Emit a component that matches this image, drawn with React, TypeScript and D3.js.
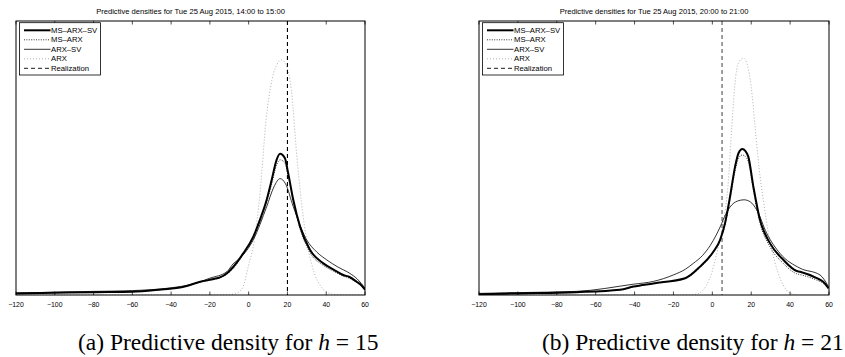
import React, { useEffect, useRef } from 'react';
import * as d3 from 'd3';

// x grid for each panel (forecast error, MW) and the density values
const xTicks = [-120, -100, -80, -60, -40, -20, 0, 20, 40, 60];

const leftMsArxSvX = [-120, -100, -80, -60, -45, -34, -25, -18, -14.8, -11, -8, -2.8, 2.4, 5.8, 9.3, 11.9, 14.4, 16.2, 18.7, 20.4, 23, 26.5, 31.6, 38.5, 44, 48.8, 52, 55.7, 58, 60];
const leftMsArxSv = [0.0004, 0.00055, 0.0007, 0.0008, 0.0014, 0.002, 0.0033, 0.004, 0.0044, 0.0055, 0.007, 0.0104, 0.0146, 0.0188, 0.0238, 0.0288, 0.0338, 0.0353, 0.0342, 0.0304, 0.0238, 0.0171, 0.0113, 0.0079, 0.0063, 0.005, 0.0045, 0.0033, 0.0025, 0.0013];
const leftMsArx = [0.0005, 0.0006, 0.0008, 0.0009, 0.0014, 0.002, 0.0032, 0.0039, 0.0043, 0.0053, 0.0066, 0.0101, 0.0143, 0.0184, 0.0232, 0.0278, 0.0325, 0.0338, 0.033, 0.0296, 0.0234, 0.0166, 0.0106, 0.0074, 0.0059, 0.0047, 0.0042, 0.0031, 0.0023, 0.0012];

const leftArxSvX = [-120, -100, -80, -60, -40, -30, -20, -11.3, -8, -4.5, 2.4, 9.3, 13, 16.2, 19, 23, 29.9, 35, 40.2, 46, 52.2, 56, 60];
const leftArxSv = [0.0005, 0.0007, 0.0009, 0.0011, 0.0018, 0.0026, 0.0042, 0.0058, 0.0078, 0.0092, 0.0138, 0.0221, 0.027, 0.0291, 0.0278, 0.0221, 0.0138, 0.0108, 0.0088, 0.007, 0.0054, 0.004, 0.0017];

const leftArxX = [-120, -20, -10, -6, -3, 0, 3, 6, 9, 12, 15, 17, 19, 22, 25, 28, 31, 34, 37, 40, 45, 60];
const leftArx = [0, 0, 0.0001, 0.0005, 0.002, 0.0075, 0.0138, 0.0263, 0.0438, 0.0538, 0.058, 0.0588, 0.0578, 0.0513, 0.0338, 0.02, 0.0108, 0.0053, 0.0023, 0.0008, 0.0001, 0];

const rightMsArxSvX = [-120, -100, -70, -47.5, -40.6, -30.3, -14, -6.3, 0.5, 4, 6.5, 9.1, 11.7, 13.5, 15.4, 17, 18.5, 21.1, 24.5, 29.7, 36.5, 43.4, 45.1, 53.7, 57, 59.7];
const rightMsArxSv = [0.0002, 0.0004, 0.0007, 0.0013, 0.0021, 0.0029, 0.0042, 0.0071, 0.0108, 0.0138, 0.0179, 0.0246, 0.0321, 0.0355, 0.0365, 0.036, 0.0346, 0.0271, 0.0188, 0.0129, 0.0088, 0.006, 0.0058, 0.0042, 0.0033, 0.0017];
const rightMsArx = [0.0003, 0.0005, 0.0008, 0.0013, 0.002, 0.0029, 0.0041, 0.0069, 0.0106, 0.0136, 0.0175, 0.0238, 0.031, 0.0342, 0.035, 0.0346, 0.0333, 0.0262, 0.018, 0.012, 0.0079, 0.0053, 0.0051, 0.0037, 0.0029, 0.0015];

const rightArxSvX = [-120, -100, -70, -40.6, -30.3, -20.1, -14, -9.8, -5, -1.2, 2, 4, 7, 9.1, 13, 16.3, 19.5, 22.8, 28, 34.8, 45.1, 55.4, 59.7];
const rightArxSv = [0.0004, 0.0006, 0.0009, 0.0027, 0.0034, 0.005, 0.0064, 0.0079, 0.0099, 0.0123, 0.015, 0.017, 0.0203, 0.022, 0.0235, 0.0238, 0.0233, 0.0213, 0.0154, 0.0104, 0.0067, 0.005, 0.0021];

const rightArxX = [-120, -12, -7, -3, 0, 3, 6, 8, 10, 12, 14, 16, 18, 20, 22, 24, 26.2, 29, 32, 35, 38, 41, 45, 60];
const rightArx = [0, 0, 0.0004, 0.0025, 0.006, 0.012, 0.019, 0.027, 0.042, 0.0545, 0.0585, 0.0592, 0.0575, 0.052, 0.042, 0.032, 0.0238, 0.015, 0.0085, 0.004, 0.0013, 0.0003, 0, 0];

const legendLabels = ['MS\u2013ARX\u2013SV', 'MS\u2013ARX', 'ARX\u2013SV', 'ARX', 'Realization'];

const panels = [
  {
    left: 16, right: 365,
    title: 'Predictive densities for Tue 25 Aug 2015, 14:00 to 15:00',
    realization: 20, realColor: '#000',
    caption: ['(a) Predictive density for ', 'h', ' = 15'], capX: 78,
    series: [
      { x: leftArxX, y: leftArx },
      { x: leftMsArxSvX, y: leftMsArx },
      { x: leftArxSvX, y: leftArxSv },
      { x: leftMsArxSvX, y: leftMsArxSv },
    ],
  },
  {
    left: 479, right: 829,
    title: 'Predictive densities for Tue 25 Aug 2015, 20:00 to 21:00',
    realization: 5, realColor: '#808080',
    caption: ['(b) Predictive density for ', 'h', ' = 21'], capX: 542,
    series: [
      { x: rightArxX, y: rightArx },
      { x: rightMsArxSvX, y: rightMsArx },
      { x: rightArxSvX, y: rightArxSv },
      { x: rightMsArxSvX, y: rightMsArxSv },
    ],
  },
];

// drawing order: ARX, MS-ARX, ARX-SV, MS-ARX-SV
const styles = [
  { stroke: '#9a9a9a', width: 0.8, dash: '1,2' },
  { stroke: '#333', width: 1, dash: '1,1.4' },
  { stroke: '#000', width: 0.8, dash: null },
  { stroke: '#000', width: 2, dash: null },
];
const legendStyles = [styles[3], styles[1], styles[2], styles[0]];

const SANS = 'Liberation Sans, Arial, Helvetica, sans-serif';

export default function App() {
  const svgRef = useRef<SVGSVGElement>(null);

  useEffect(() => {
    const svg = d3.select(svgRef.current);
    svg.selectAll('*').remove();

    const top = 21;
    const bottom = 295;
    const yScale = d3.scaleLinear().domain([0, 0.0685]).range([bottom, top]);

    panels.forEach(p => {
      const g = svg.append('g');
      const xScale = d3.scaleLinear().domain([-120, 60]).range([p.left, p.right]);

      // clip for curves
      const clipId = `clip${p.left}`;
      g.append('clipPath').attr('id', clipId)
        .append('rect')
        .attr('x', p.left).attr('y', top)
        .attr('width', p.right - p.left).attr('height', bottom - top);

      const curves = g.append('g').attr('clip-path', `url(#${clipId})`);

      // realization
      curves.append('line')
        .attr('x1', xScale(p.realization)).attr('x2', xScale(p.realization))
        .attr('y1', top).attr('y2', bottom)
        .attr('stroke', p.realColor)
        .attr('stroke-width', p.realColor === '#000' ? 1.1 : 1.5)
        .attr('stroke-dasharray', '4,3');

      p.series.forEach((s, i) => {
        const st = styles[i];
        const line = d3.line<number>()
          .x((d, j) => xScale(s.x[j]))
          .y(d => yScale(d))
          .curve(d3.curveMonotoneX);
        curves.append('path')
          .datum(s.y)
          .attr('d', line)
          .attr('fill', 'none')
          .attr('stroke', st.stroke)
          .attr('stroke-width', st.width)
          .attr('stroke-linejoin', 'round')
          .attr('stroke-dasharray', st.dash);
      });

      // frame
      g.append('rect')
        .attr('x', p.left).attr('y', top)
        .attr('width', p.right - p.left).attr('height', bottom - top)
        .attr('fill', 'none').attr('stroke', '#000').attr('stroke-width', 1);

      // ticks top and bottom (inward)
      xTicks.forEach(t => {
        const x = xScale(t);
        g.append('line').attr('x1', x).attr('x2', x).attr('y1', bottom).attr('y2', bottom - 3.5)
          .attr('stroke', '#000').attr('stroke-width', 0.7);
        g.append('line').attr('x1', x).attr('x2', x).attr('y1', top).attr('y2', top + 3.5)
          .attr('stroke', '#000').attr('stroke-width', 0.7);
        g.append('text')
          .attr('x', x).attr('y', 307)
          .attr('text-anchor', 'middle')
          .attr('font-family', SANS).attr('font-size', 6.9)
          .text(d3.format('')(t));
      });

      // title
      g.append('text')
        .attr('x', (p.left + p.right) / 2).attr('y', 13.5)
        .attr('text-anchor', 'middle')
        .attr('font-family', SANS).attr('font-size', 7.6)
        .text(p.title);

      // legend
      const lx = p.left + 3.5;
      const ly = top + 1.7;
      g.append('rect')
        .attr('x', lx).attr('y', ly).attr('width', 81).attr('height', 52.3)
        .attr('fill', '#fff').attr('stroke', '#000').attr('stroke-width', 0.8);
      legendLabels.forEach((lab, i) => {
        const yy = ly + 7.6 + i * 9.5;
        const st = i < 4 ? legendStyles[i] : { stroke: '#000', width: 0.9, dash: '4,3' };
        g.append('line')
          .attr('x1', lx + 4.5).attr('x2', lx + 31)
          .attr('y1', yy).attr('y2', yy)
          .attr('stroke', st.stroke).attr('stroke-width', st.width)
          .attr('stroke-dasharray', st.dash);
        g.append('text')
          .attr('x', lx + 31.5).attr('y', yy + 2.6)
          .attr('font-family', SANS).attr('font-size', 7.7)
          .text(lab);
      });

      // caption
      const cap = g.append('text')
        .attr('x', p.capX).attr('y', 350)
        .attr('font-family', 'Liberation Serif, Times New Roman, serif')
        .attr('font-size', 23.5);
      cap.append('tspan').text(p.caption[0]);
      cap.append('tspan').attr('font-style', 'italic').text(p.caption[1]);
      cap.append('tspan').text(p.caption[2]);
    });
  }, []);

  return (
    <svg
      ref={svgRef}
      width={845}
      height={357}
      style={{ position: 'absolute', left: 0, top: 0, background: '#fff' }}
    />
  );
}
